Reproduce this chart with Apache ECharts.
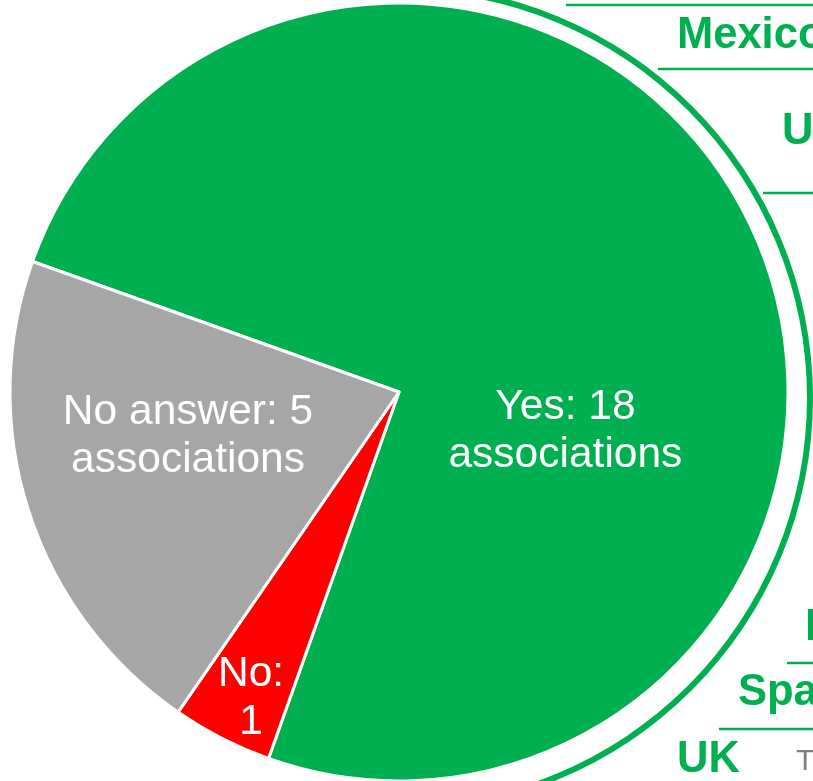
<!DOCTYPE html>
<html><head><meta charset="utf-8">
<script src="https://cdn.jsdelivr.net/npm/echarts@6/dist/echarts.min.js"></script>
<style>html,body{margin:0;padding:0;background:#fff;overflow:hidden}#c{width:813px;height:781px}</style>
</head><body><div id="c"></div>
<script>
// ---- data ----
const categories = ['Yes', 'No', 'No answer'];
const values = [18, 1, 5];
const unitWord = 'associations';
const countries = ['Mexico', 'USA', 'Italy', 'Spain', 'UK'];
const noteText = 'The';

// ---- styles / layout ----
const GREEN = '#00B050';
const sliceColors = [GREEN, '#FF0000', '#A6A6A6'];
const FONT = '"Liberation Sans", Arial, sans-serif';
const labelShift = [[-12, 124], [-58, 130], [-23, -16]];
const countryPos = [[677, 35.6], [782, 132], [805, 628], [738, 693], [677, 760]];
const rulePos = [[566, 5], [658, 69], [763, 193], [787, 663], [719, 729]];

const chart = echarts.init(document.getElementById('c'), null, { renderer: 'canvas' });

const graphic = [];
rulePos.forEach(p => graphic.push({
  type: 'line', silent: true,
  shape: { x1: p[0], y1: p[1], x2: 813, y2: p[1] },
  style: { stroke: GREEN, lineWidth: 2.5 }
}));
countries.forEach((name, i) => graphic.push({
  type: 'text', silent: true,
  x: countryPos[i][0], y: countryPos[i][1],
  style: { text: name, fill: GREEN, font: 'bold 43.5px ' + FONT, verticalAlign: 'middle', align: 'left' }
}));
graphic.push({
  type: 'text', silent: true, x: 796, y: 761.6,
  style: { text: noteText, fill: '#7F7F7F', font: '30px ' + FONT, verticalAlign: 'middle', align: 'left' }
});

chart.setOption({
  animation: false,
  backgroundColor: '#fff',
  graphic: graphic,
  series: [
    {
      type: 'pie', silent: true,
      center: [400, 398], radius: [407, 413],
      startAngle: 90, endAngle: -90,
      label: { show: false }, labelLine: { show: false },
      itemStyle: { color: GREEN },
      data: [{ value: 1, name: 'ring' }]
    },
    {
      type: 'pie', silent: true,
      center: [399, 392], radius: 389,
      startAngle: 160.4, clockwise: true,
      itemStyle: { borderColor: '#fff', borderWidth: 3 },
      emphasis: { disabled: true },
      label: {
        show: true, position: 'inside', color: '#fff',
        fontFamily: FONT, fontSize: 42.5, lineHeight: 48, align: 'center',
        formatter: p => p.name === 'No'
          ? p.name + ':\n' + p.value
          : p.name + ': ' + p.value + '\n' + unitWord
      },
      labelLayout: p => ({ dx: labelShift[p.dataIndex][0], dy: labelShift[p.dataIndex][1] }),
      labelLine: { show: false },
      data: categories.map((c, i) => ({ name: c, value: values[i], itemStyle: { color: sliceColors[i] } }))
    }
  ]
});
</script>
</body></html>
